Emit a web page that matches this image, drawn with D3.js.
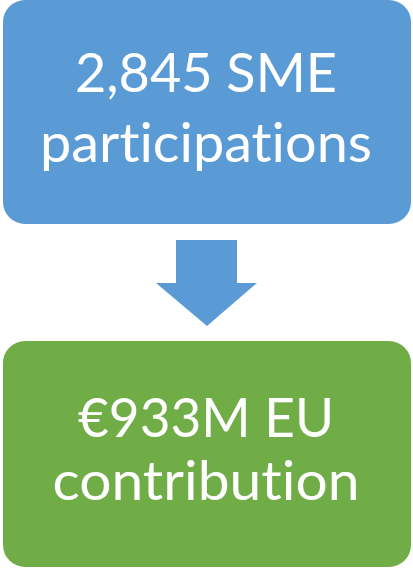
<!DOCTYPE html>
<html><head><meta charset="utf-8">
<script src="https://cdn.jsdelivr.net/npm/d3@7"></script>
<style>html,body{margin:0;padding:0;background:#fff;}svg{display:block;}
text{font-variant-ligatures:none;font-feature-settings:"liga" 0,"clig" 0;}</style>
</head><body>
<svg id="c" width="413" height="568"></svg>
<script>
// Data
const boxLabels = [["2,845 SME", "participations"], ["€933M EU", "contribution"]];
const boxColors = ["#5B9BD5", "#70AD47"];
const targetWidths = [[262, 332], [256, 307]];

const svg = d3.select("#c");
const boxes = [
  {y: 0, h: 224},
  {y: 341, h: 226}
];
const g = svg.selectAll("g.box").data(boxLabels).join("g").attr("class", "box");
g.append("rect")
  .attr("x", 3).attr("width", 408)
  .attr("y", (d, i) => boxes[i].y).attr("height", (d, i) => boxes[i].h)
  .attr("rx", 22).attr("ry", 22)
  .attr("fill", (d, i) => boxColors[i]);

const baselines = [[92, 162], [437, 500]];
g.each(function(lines, i) {
  const sel = d3.select(this);
  lines.forEach((t, j) => {
    const txt = sel.append("text")
      .attr("x", 206).attr("y", baselines[i][j])
      .attr("text-anchor", "middle")
      .attr("fill", "#fff")
      .style("font-family", "Lato, 'Open Sans', sans-serif")
      .style("font-size", "54px")
      .text(t);
    const len = txt.node().getComputedTextLength();
    const tw = targetWidths[i][j];
    if (Math.abs(len - tw) > 2) {
      txt.attr("textLength", tw).attr("lengthAdjust", "spacingAndGlyphs");
    }
  });
});

// Arrow
const arrow = [[176, 240], [237, 240], [237, 283], [257, 283], [207, 326], [156, 283], [176, 283]];
svg.append("path")
  .attr("d", d3.line()(arrow) + "Z")
  .attr("fill", boxColors[0]);
</script>
</body></html>
